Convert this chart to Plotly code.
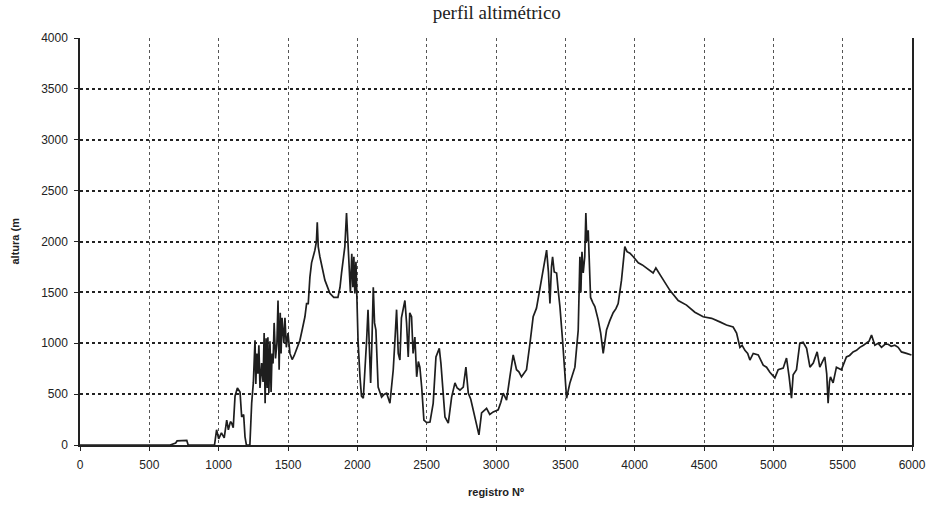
import plotly.graph_objects as go

registro = [0, 300, 650, 690, 700, 770, 780, 970, 985, 1000, 1020, 1040, 1058, 1070, 1085, 1094, 1105,
            1118, 1135, 1154, 1166, 1180, 1190, 1200, 1225, 1238, 1250, 1262, 1268, 1275, 1283, 1290,
            1298, 1310, 1320, 1328, 1335, 1342, 1350, 1355, 1362, 1370, 1378, 1385, 1392, 1400, 1410,
            1420, 1428, 1436, 1444, 1450, 1457, 1470, 1478, 1488, 1500, 1514, 1530, 1545, 1565, 1586,
            1605, 1622, 1634, 1646, 1658, 1670, 1694, 1705, 1711, 1718, 1730, 1766, 1802, 1830, 1860,
            1875, 1886, 1910, 1922, 1930, 1940, 1950, 1960, 1968, 1975, 1982, 1990, 1995, 2005, 2019,
            2030, 2043, 2055, 2067, 2077, 2086, 2096, 2105, 2115, 2124, 2134, 2150, 2175, 2195, 2211,
            2235, 2259, 2270, 2283, 2295, 2307, 2318, 2331, 2343, 2355, 2367, 2378, 2391, 2402, 2415,
            2428, 2440, 2451, 2464, 2480, 2500, 2524, 2547, 2567, 2591, 2603, 2615, 2632, 2656, 2680,
            2704, 2720, 2740, 2764, 2783, 2800, 2818, 2836, 2860, 2877, 2896, 2932, 2955, 2980, 3016,
            3035, 3052, 3076, 3100, 3124, 3148, 3165, 3184, 3200, 3220, 3245, 3268, 3292, 3317, 3340,
            3365, 3378, 3389, 3400, 3408, 3420, 3437, 3450, 3461, 3480, 3497, 3509, 3533, 3550, 3569,
            3593, 3605, 3612, 3620, 3629, 3640, 3648, 3655, 3665, 3682, 3698, 3713, 3737, 3755, 3773,
            3797, 3820, 3845, 3865, 3881, 3905, 3929, 3945, 3966, 3990, 4014, 4026, 4055, 4086, 4110,
            4133, 4153, 4170, 4194, 4254, 4314, 4374, 4434, 4494, 4555, 4614, 4662, 4710, 4735, 4759,
            4775, 4795, 4815, 4831, 4855, 4891, 4927, 4951, 4975, 5011, 5035, 5071, 5095, 5114, 5131,
            5143, 5167, 5191, 5215, 5240, 5264, 5288, 5316, 5335, 5355, 5371, 5385, 5395, 5405, 5412,
            5431, 5455, 5491, 5527, 5550, 5575, 5600, 5624, 5650, 5672, 5690, 5708, 5732, 5755, 5780,
            5805, 5828, 5850, 5876, 5900, 5924, 5960, 5996]
altura = [0, 0, 0, 20, 40, 45, 0, 0, 150, 60, 120, 70, 245, 150, 230, 215, 170,
          480, 560, 520, 275, 300, 80, 0, 0, 410, 610, 1030, 600, 900, 700, 980,
          560, 805, 620, 1100, 410, 1050, 560, 1060, 510, 1020, 520, 900, 800, 1200, 850,
          1000, 1420, 740, 1300, 900, 1250, 1000, 1250, 960, 1100, 900, 840, 880, 950, 1030,
          1150, 1260, 1390, 1390, 1650, 1790, 1915, 2000, 2190, 1950, 1850, 1620, 1490, 1450, 1450,
          1550, 1690, 1950, 2280, 2050, 1915, 1500, 1880, 1550, 1850, 1490, 1800, 1500, 1030, 670,
          480, 460, 700, 1030, 1330, 900, 610, 1000, 1550, 1200, 1130, 570, 470, 500, 510,
          410, 740, 1000, 1330, 900, 835, 1250, 1360, 1420, 1200, 865, 1300, 1260, 900, 1060,
          670, 820, 765, 570, 245, 220, 225, 410, 865, 950, 800, 610, 275, 215, 470,
          610, 560, 540, 570, 765, 510, 450, 345, 215, 100, 315, 360, 300, 325, 345,
          420, 510, 440, 670, 885, 740, 720, 670, 700, 740, 1000, 1260, 1345, 1550, 1750,
          1915, 1700, 1390, 1750, 1850, 1700, 1690, 1500, 1360, 1030, 670, 460, 610, 680, 765,
          1130, 1850, 1500, 1900, 1690, 1850, 2280, 2000, 2110, 1450, 1400, 1360, 1230, 1100, 900,
          1130, 1220, 1300, 1340, 1390, 1620, 1950, 1900, 1885, 1850, 1815, 1790, 1770, 1740, 1720,
          1690, 1740, 1700, 1650, 1520, 1420, 1375, 1305, 1260, 1245, 1210, 1180, 1160, 1100, 960,
          980, 930, 900, 835, 900, 885, 785, 765, 715, 660, 740, 755, 855, 670, 460,
          690, 740, 1000, 1010, 950, 765, 805, 915, 765, 820, 865, 700, 410, 620, 670,
          610, 765, 740, 865, 880, 915, 930, 960, 980, 1000, 1020, 1080, 980, 1000, 960,
          990, 990, 970, 980, 960, 915, 900, 885]

fig = go.Figure(
    go.Scatter(
        x=registro, y=altura, mode="lines",
        line=dict(color="#1e1e1e", width=1.7),
        showlegend=False, hoverinfo="skip",
    )
)

x_ticks = list(range(0, 6001, 500))
y_ticks = list(range(0, 4001, 500))

fig.update_layout(
    width=932, height=506,
    margin=dict(l=80, r=20, t=38, b=61, autoexpand=False),
    paper_bgcolor="white", plot_bgcolor="white",
    title=dict(text="perfil altimétrico", x=0.533, xanchor="center", y=0.976, yanchor="middle",
               font=dict(family="Liberation Serif, Times New Roman, serif", size=19, color="#222")),
    font=dict(family="Liberation Sans, Arial, sans-serif", size=11, color="#222"),
    annotations=[
        dict(text="<b>registro Nº</b>", xref="paper", yref="paper", x=0.5, y=0,
             xanchor="center", yanchor="middle", yshift=-47, showarrow=False,
             font=dict(size=11, color="#222")),
        dict(text="<b>altura (m</b>", xref="paper", yref="paper", x=0, y=0.5,
             xanchor="center", yanchor="middle", xshift=-66, textangle=-90, showarrow=False,
             font=dict(size=11, color="#222")),
    ],
)
fig.update_xaxes(
    range=[0, 6000], tickvals=x_ticks, ticktext=[str(v) for v in x_ticks],
    showgrid=True, gridcolor="#555", griddash="dot", gridwidth=1,
    showline=True, linecolor="#222", linewidth=1.5, mirror=False,
    ticks="outside", ticklen=4, tickcolor="#222", ticklabelstandoff=4,
    zeroline=False, automargin=False,
    tickfont=dict(size=12),
)
fig.update_yaxes(
    range=[0, 4000], tickvals=y_ticks, ticktext=[str(v) for v in y_ticks],
    showgrid=True, gridcolor="#222", griddash="dot", gridwidth=1.5,
    showline=True, linecolor="#222", linewidth=1.5, mirror=True,
    ticks="outside", ticklen=4, tickcolor="#222", ticklabelstandoff=4,
    zeroline=False, automargin=False,
    tickfont=dict(size=12),
)

fig.write_html("out.html", config={"displayModeBar": False},
               post_script="document.body.style.margin='0';")
